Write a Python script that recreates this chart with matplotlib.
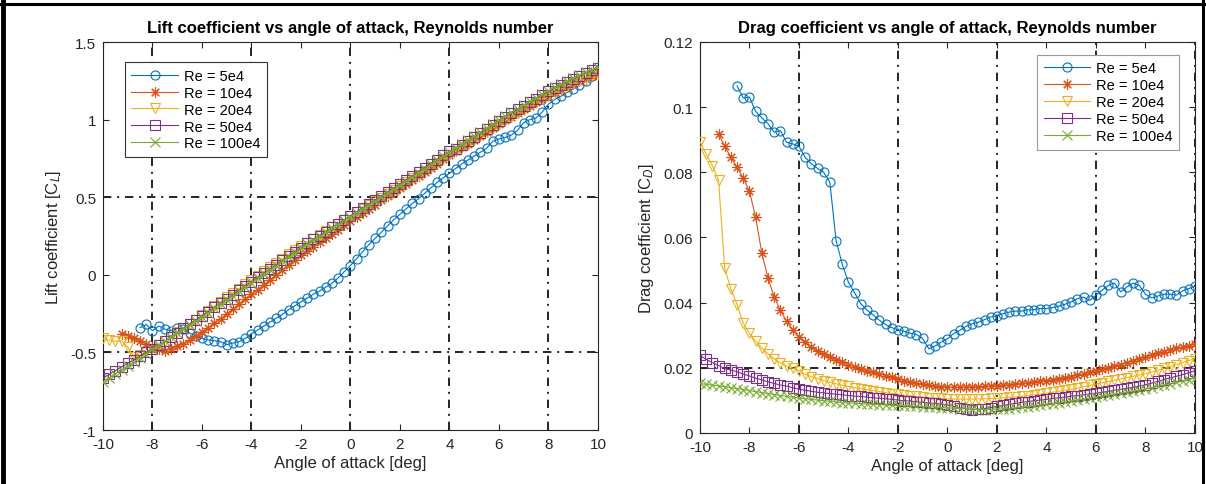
import numpy as np
import matplotlib
matplotlib.use("Agg")
import matplotlib.pyplot as plt
from matplotlib.lines import Line2D

plt.rcParams["font.family"] = ["Liberation Sans", "DejaVu Sans"]
plt.rcParams["mathtext.fontset"] = "custom"
plt.rcParams["mathtext.rm"] = "Liberation Sans"
plt.rcParams["mathtext.it"] = "Liberation Sans:italic"
plt.rcParams["axes.unicode_minus"] = False

STEP = 0.25  # deg between samples

labels = ["Re = 5e4", "Re = 10e4", "Re = 20e4", "Re = 50e4", "Re = 100e4"]
start_deg = [-8.5, -9.25, -10.0, -10.0, -10.0]

# lift coefficient
cl_5e4 = [-0.340, -0.320, -0.360, -0.330, -0.350, -0.360, -0.345, -0.350, -0.375, -0.395,
          -0.410, -0.420, -0.425, -0.430, -0.450, -0.440, -0.430, -0.410, -0.380, -0.355,
          -0.330, -0.305, -0.280, -0.255, -0.225, -0.200, -0.175, -0.150, -0.125, -0.105,
          -0.080, -0.055, -0.020, 0.020, 0.060, 0.105, 0.150, 0.195, 0.235, 0.275,
          0.315, 0.355, 0.390, 0.425, 0.460, 0.490, 0.525, 0.560, 0.595, 0.625,
          0.655, 0.685, 0.715, 0.740, 0.765, 0.790, 0.815, 0.860, 0.875, 0.885,
          0.900, 0.930, 0.980, 1.000, 1.010, 1.050, 1.100, 1.130, 1.150, 1.175,
          1.200, 1.220, 1.250, 1.280, 1.310]
cl_10e4 = [-0.380, -0.395, -0.410, -0.425, -0.445, -0.465, -0.480, -0.490, -0.475, -0.461,
           -0.443, -0.423, -0.397, -0.370, -0.341, -0.311, -0.282, -0.252, -0.220, -0.188,
           -0.156, -0.125, -0.095, -0.063, -0.032, 0.000, 0.031, 0.063, 0.094, 0.125,
           0.153, 0.182, 0.209, 0.238, 0.265, 0.292, 0.319, 0.345, 0.372, 0.399,
           0.426, 0.453, 0.479, 0.506, 0.533, 0.560, 0.586, 0.612, 0.639, 0.665,
           0.691, 0.717, 0.744, 0.770, 0.795, 0.821, 0.846, 0.871, 0.897, 0.922,
           0.948, 0.973, 0.997, 1.020, 1.043, 1.066, 1.089, 1.111, 1.133, 1.155,
           1.175, 1.194, 1.212, 1.230, 1.247, 1.263, 1.278, 1.290]
cl_20e4 = [-0.410, -0.420, -0.428, -0.425, -0.465, -0.530, -0.518, -0.500, -0.478, -0.452,
           -0.425, -0.398, -0.370, -0.343, -0.315, -0.288, -0.260, -0.230, -0.202, -0.174,
           -0.146, -0.118, -0.090, -0.062, -0.034, -0.006, 0.022, 0.050, 0.077, 0.104,
           0.131, 0.157, 0.183, 0.208, 0.233, 0.257, 0.282, 0.306, 0.330, 0.354,
           0.378, 0.402, 0.426, 0.450, 0.474, 0.498, 0.522, 0.547, 0.571, 0.596,
           0.621, 0.646, 0.671, 0.696, 0.721, 0.746, 0.771, 0.796, 0.821, 0.846,
           0.871, 0.896, 0.921, 0.946, 0.970, 0.994, 1.018, 1.041, 1.064, 1.087,
           1.109, 1.131, 1.153, 1.174, 1.195, 1.215, 1.234, 1.252, 1.270, 1.287, 1.303]
cl_50e4 = [-0.665, -0.642, -0.618, -0.594, -0.570, -0.547, -0.523, -0.499, -0.476, -0.451,
           -0.426, -0.400, -0.374, -0.344, -0.317, -0.291, -0.264, -0.237, -0.210, -0.183,
           -0.156, -0.128, -0.100, -0.072, -0.044, -0.017, 0.011, 0.038, 0.066, 0.093,
           0.121, 0.148, 0.176, 0.202, 0.228, 0.253, 0.279, 0.305, 0.330, 0.356,
           0.381, 0.407, 0.433, 0.458, 0.484, 0.509, 0.535, 0.560, 0.586, 0.612,
           0.638, 0.665, 0.691, 0.717, 0.743, 0.770, 0.796, 0.811, 0.837, 0.863,
           0.889, 0.915, 0.941, 0.968, 0.993, 1.018, 1.042, 1.066, 1.090, 1.113,
           1.136, 1.159, 1.182, 1.203, 1.223, 1.243, 1.263, 1.282, 1.300, 1.317, 1.330]
cl_100e4 = [-0.690, -0.664, -0.637, -0.611, -0.585, -0.559, -0.533, -0.507, -0.481, -0.455,
            -0.429, -0.402, -0.376, -0.350, -0.323, -0.297, -0.270, -0.243, -0.216, -0.189,
            -0.162, -0.134, -0.106, -0.078, -0.050, -0.023, 0.005, 0.032, 0.060, 0.087,
            0.115, 0.142, 0.170, 0.196, 0.222, 0.247, 0.273, 0.299, 0.324, 0.350,
            0.375, 0.401, 0.427, 0.452, 0.478, 0.503, 0.529, 0.554, 0.580, 0.606,
            0.632, 0.659, 0.685, 0.711, 0.737, 0.764, 0.790, 0.816, 0.842, 0.868,
            0.894, 0.920, 0.946, 0.973, 0.998, 1.023, 1.047, 1.071, 1.095, 1.118,
            1.141, 1.164, 1.187, 1.208, 1.228, 1.248, 1.268, 1.287, 1.305, 1.322, 1.340]

# drag coefficient
cd_5e4 = [0.1065, 0.1028, 0.1031, 0.0987, 0.0967, 0.0949, 0.0923, 0.0928, 0.0892, 0.0887,
          0.0880, 0.0846, 0.0826, 0.0812, 0.0800, 0.0769, 0.0590, 0.0518, 0.0462, 0.0430,
          0.0397, 0.0377, 0.0362, 0.0346, 0.0333, 0.0323, 0.0317, 0.0312, 0.0306, 0.0302,
          0.0290, 0.0258, 0.0267, 0.0279, 0.0289, 0.0305, 0.0315, 0.0327, 0.0335, 0.0340,
          0.0348, 0.0356, 0.0359, 0.0366, 0.0371, 0.0374, 0.0374, 0.0378, 0.0378, 0.0382,
          0.0382, 0.0385, 0.0389, 0.0395, 0.0402, 0.0412, 0.0417, 0.0407, 0.0423, 0.0438,
          0.0453, 0.0460, 0.0433, 0.0448, 0.0460, 0.0453, 0.0426, 0.0414, 0.0420, 0.0426,
          0.0426, 0.0423, 0.0436, 0.0443, 0.0450]
cd_10e4 = [0.0918, 0.0880, 0.0846, 0.0815, 0.0782, 0.0742, 0.0662, 0.0552, 0.0475, 0.0418,
           0.0376, 0.0343, 0.0316, 0.0296, 0.0278, 0.0264, 0.0251, 0.0241, 0.0233, 0.0225,
           0.0217, 0.0210, 0.0203, 0.0196, 0.0191, 0.0186, 0.0181, 0.0176, 0.0171, 0.0165,
           0.0161, 0.0157, 0.0153, 0.0149, 0.0146, 0.0144, 0.0142, 0.0141, 0.0140, 0.0140,
           0.0141, 0.0141, 0.0142, 0.0143, 0.0144, 0.0145, 0.0147, 0.0148, 0.0150, 0.0152,
           0.0154, 0.0156, 0.0158, 0.0161, 0.0164, 0.0167, 0.0170, 0.0173, 0.0177, 0.0181,
           0.0186, 0.0190, 0.0195, 0.0200, 0.0205, 0.0210, 0.0215, 0.0221, 0.0227, 0.0233,
           0.0238, 0.0244, 0.0250, 0.0255, 0.0260, 0.0264, 0.0268, 0.0272]
cd_20e4 = [0.0894, 0.0856, 0.0820, 0.0777, 0.0505, 0.0442, 0.0394, 0.0336, 0.0306, 0.0281,
           0.0261, 0.0243, 0.0227, 0.0215, 0.0206, 0.0199, 0.0191, 0.0180, 0.0173, 0.0167,
           0.0161, 0.0156, 0.0151, 0.0147, 0.0143, 0.0139, 0.0136, 0.0133, 0.0130, 0.0127,
           0.0124, 0.0121, 0.0119, 0.0116, 0.0114, 0.0112, 0.0110, 0.0108, 0.0107, 0.0106,
           0.0105, 0.0104, 0.0104, 0.0104, 0.0104, 0.0105, 0.0105, 0.0106, 0.0107, 0.0108,
           0.0110, 0.0111, 0.0113, 0.0115, 0.0117, 0.0119, 0.0122, 0.0125, 0.0128, 0.0131,
           0.0134, 0.0138, 0.0142, 0.0146, 0.0150, 0.0154, 0.0158, 0.0162, 0.0166, 0.0170,
           0.0174, 0.0178, 0.0182, 0.0187, 0.0192, 0.0198, 0.0204, 0.0210, 0.0216, 0.0222, 0.0228]
cd_50e4 = [0.0238, 0.0226, 0.0216, 0.0207, 0.0198, 0.0193, 0.0188, 0.0181, 0.0175, 0.0168,
           0.0163, 0.0157, 0.0152, 0.0147, 0.0144, 0.0139, 0.0134, 0.0131, 0.0128, 0.0125,
           0.0123, 0.0121, 0.0119, 0.0117, 0.0115, 0.0113, 0.0112, 0.0110, 0.0108, 0.0106,
           0.0105, 0.0103, 0.0101, 0.0099, 0.0098, 0.0096, 0.0094, 0.0092, 0.0091, 0.0089,
           0.0086, 0.0082, 0.0077, 0.0074, 0.0072, 0.0073, 0.0075, 0.0078, 0.0082, 0.0085,
           0.0088, 0.0091, 0.0094, 0.0096, 0.0099, 0.0101, 0.0103, 0.0106, 0.0108, 0.0110,
           0.0113, 0.0115, 0.0117, 0.0120, 0.0122, 0.0125, 0.0128, 0.0131, 0.0134, 0.0137,
           0.0140, 0.0144, 0.0148, 0.0153, 0.0158, 0.0164, 0.0169, 0.0174, 0.0179, 0.0185, 0.0191]
cd_100e4 = [0.0152, 0.0149, 0.0147, 0.0145, 0.0142, 0.0139, 0.0136, 0.0133, 0.0130, 0.0127,
            0.0124, 0.0121, 0.0118, 0.0115, 0.0112, 0.0110, 0.0107, 0.0105, 0.0103, 0.0101,
            0.0099, 0.0097, 0.0095, 0.0093, 0.0092, 0.0091, 0.0090, 0.0089, 0.0088, 0.0087,
            0.0086, 0.0085, 0.0085, 0.0084, 0.0083, 0.0082, 0.0081, 0.0080, 0.0079, 0.0078,
            0.0077, 0.0076, 0.0075, 0.0074, 0.0073, 0.0072, 0.0072, 0.0072, 0.0073, 0.0074,
            0.0075, 0.0077, 0.0079, 0.0081, 0.0083, 0.0085, 0.0088, 0.0090, 0.0093, 0.0095,
            0.0098, 0.0101, 0.0104, 0.0107, 0.0110, 0.0113, 0.0116, 0.0119, 0.0122, 0.0125,
            0.0128, 0.0131, 0.0135, 0.0139, 0.0143, 0.0147, 0.0151, 0.0155, 0.0159, 0.0164, 0.0170]

cl_all = [cl_5e4, cl_10e4, cl_20e4, cl_50e4, cl_100e4]
cd_all = [cd_5e4, cd_10e4, cd_20e4, cd_50e4, cd_100e4]

x_ticks = [-10, -8, -6, -4, -2, 0, 2, 4, 6, 8, 10]
cl_ticks = [-1, -0.5, 0, 0.5, 1, 1.5]
cl_tick_labels = ["-1", "-0.5", "0", "0.5", "1", "1.5"]
cd_ticks = [0, 0.02, 0.04, 0.06, 0.08, 0.1, 0.12]
cd_tick_labels = ["0", "0.02", "0.04", "0.06", "0.08", "0.1", "0.12"]

colors = ["#0072BD", "#D95319", "#EDB120", "#7E2F8E", "#77AC30"]
markers = ["o", (8, 2, 0), "v", "s", "x"]
txt = "#262626"
dashdot = (0, (5, 3.5, 1.2, 3.5))


def angles(start, vals):
    return start + STEP * np.arange(len(vals))


def style_axes(ax):
    for s in ax.spines.values():
        s.set_color(txt)
        s.set_linewidth(0.8)
    ax.tick_params(direction="in", top=True, right=True, length=4.5, width=0.8,
                   colors=txt, labelsize=11, pad=5)


def draw(ax, data):
    for vals, st, c, m, lab in zip(data, start_deg, colors, markers, labels):
        size = 7.5 if m == markers[1] else 6.5
        ax.plot(angles(st, vals), vals, color=c, lw=0.8, marker=m, ms=size,
                mfc="none", mec=c, mew=0.8, label=lab, zorder=3)


def add_legend(ax, loc, anchor, edge):
    leg = ax.legend(loc=loc, bbox_to_anchor=anchor, borderaxespad=0,
                    fontsize=10.5, handlelength=3.2, labelspacing=0.2, fancybox=False,
                    framealpha=1, edgecolor=edge, borderpad=0.45, handletextpad=0.4)
    leg.get_frame().set_linewidth(0.8)


fig = plt.figure(figsize=(12.06, 4.85), dpi=100)

# --- lift
ax1 = fig.add_axes([0.0854, 0.1113, 0.4104, 0.800])
style_axes(ax1)
for g in [-8, -4, 0, 4, 8]:
    ax1.axvline(g, color="black", lw=1.2, ls=dashdot, zorder=1)
for g in [-0.5, 0.5]:
    ax1.axhline(g, color="black", lw=1.2, ls=dashdot, zorder=1)
draw(ax1, cl_all)
ax1.set_xlim(-10, 10)
ax1.set_ylim(-1, 1.5)
ax1.set_xticks(x_ticks)
ax1.set_yticks(cl_ticks)
ax1.set_yticklabels(cl_tick_labels)
ax1.set_title("Lift coefficient vs angle of attack, Reynolds number",
              fontsize=12, fontweight="bold", pad=7)
ax1.set_xlabel("Angle of attack [deg]", fontsize=12, color=txt, labelpad=3)
ax1.set_ylabel("Lift coefficient [C$_L$]", fontsize=12, color=txt, labelpad=5)
add_legend(ax1, "upper left", (0.044, 0.948), "#333333")

# --- drag
ax2 = fig.add_axes([0.5804, 0.1052, 0.4104, 0.8062])
style_axes(ax2)
for g in [-6, -2, 2, 6, 10]:
    ax2.axvline(g, color="black", lw=1.2, ls=dashdot, zorder=1)
ax2.axhline(0.02, color="black", lw=1.2, ls=dashdot, zorder=1)
draw(ax2, cd_all)
ax2.set_xlim(-10, 10)
ax2.set_ylim(0, 0.12)
ax2.set_xticks(x_ticks)
ax2.set_yticks(cd_ticks)
ax2.set_yticklabels(cd_tick_labels)
ax2.set_title("Drag coefficient vs angle of attack, Reynolds number",
              fontsize=12, fontweight="bold", pad=7)
ax2.set_xlabel("Angle of attack [deg]", fontsize=12, color=txt, labelpad=3)
ax2.set_ylabel("Drag coefficient [C$_D$]", fontsize=12, color=txt, labelpad=5)
add_legend(ax2, "upper right", (0.968, 0.967), "#999999")

# outer frame of the screenshot
fig.add_artist(Line2D([0.0025, 0.0025], [0, 1], color="black", lw=3.5,
                      transform=fig.transFigure))
fig.add_artist(Line2D([0, 1], [0.99, 0.99], color="black", lw=2.2,
                      transform=fig.transFigure))
fig.add_artist(Line2D([0.9975, 0.9975], [0, 1], color="black", lw=2.2,
                      transform=fig.transFigure))

fig.savefig("out.png", dpi=100)
